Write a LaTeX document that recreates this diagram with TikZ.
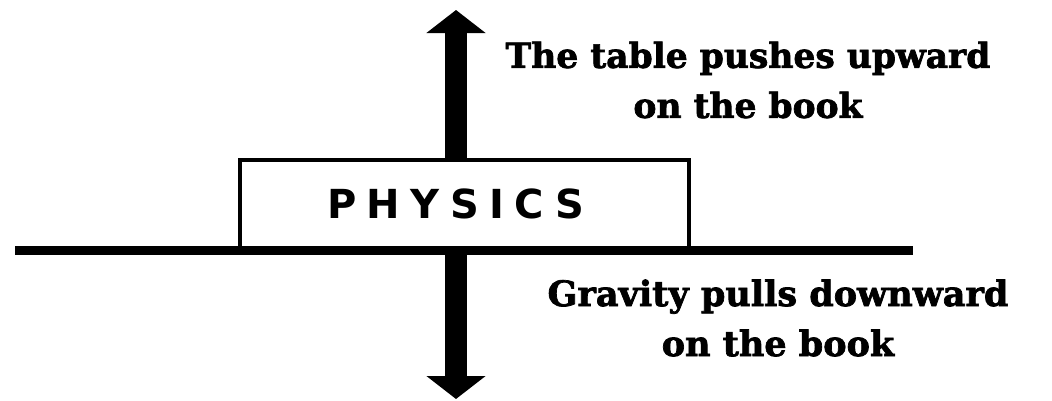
\documentclass[tikz,border=0pt]{standalone}
\usepackage{fontspec}
\usetikzlibrary{arrows.meta,positioning}
\newfontfamily\bookfont[LetterSpace=26]{DejaVu Sans}
\newfontfamily\labelfont[FakeBold=2]{DejaVu Serif}

\begin{document}
\begin{tikzpicture}[x=1pt,y=-1pt,
    bookbox/.style={draw, line width=4pt, minimum width=449pt, minimum height=88pt, inner sep=0pt},
    force/.style={line width=22pt, -{Triangle[length=23pt,width=58pt]}},
    caption/.style={font=\labelfont\bfseries\fontsize{#1}{50}\selectfont, align=center, inner sep=0pt}]
  \useasboundingbox (0,0) rectangle (1052,400);
  \coordinate (tableL) at (15,250.5);
  \coordinate (tableR) at (913,250.5);
  \coordinate (upTip) at (456,10);
  \coordinate (downTip) at (456,399);
  \node[bookbox] (book) at (464.5,204) {};
  \node[inner sep=0pt, font=\bookfont\bfseries\fontsize{40}{40}\selectfont] (title) at ([xshift=-9pt]book.center) {PHYSICS};
  \draw[line width=9pt] (tableL) -- (tableR);
  \draw[force] (upTip |- book.north) -- (upTip);
  \draw[force] (downTip |- tableL) -- (downTip);
  \node[caption=34.5] (push) at (748,80) {The table pushes upward\\on the book};
  \node[caption=35] (pull) at (778,318) {Gravity pulls downward\\on the book};
\end{tikzpicture}
\end{document}
